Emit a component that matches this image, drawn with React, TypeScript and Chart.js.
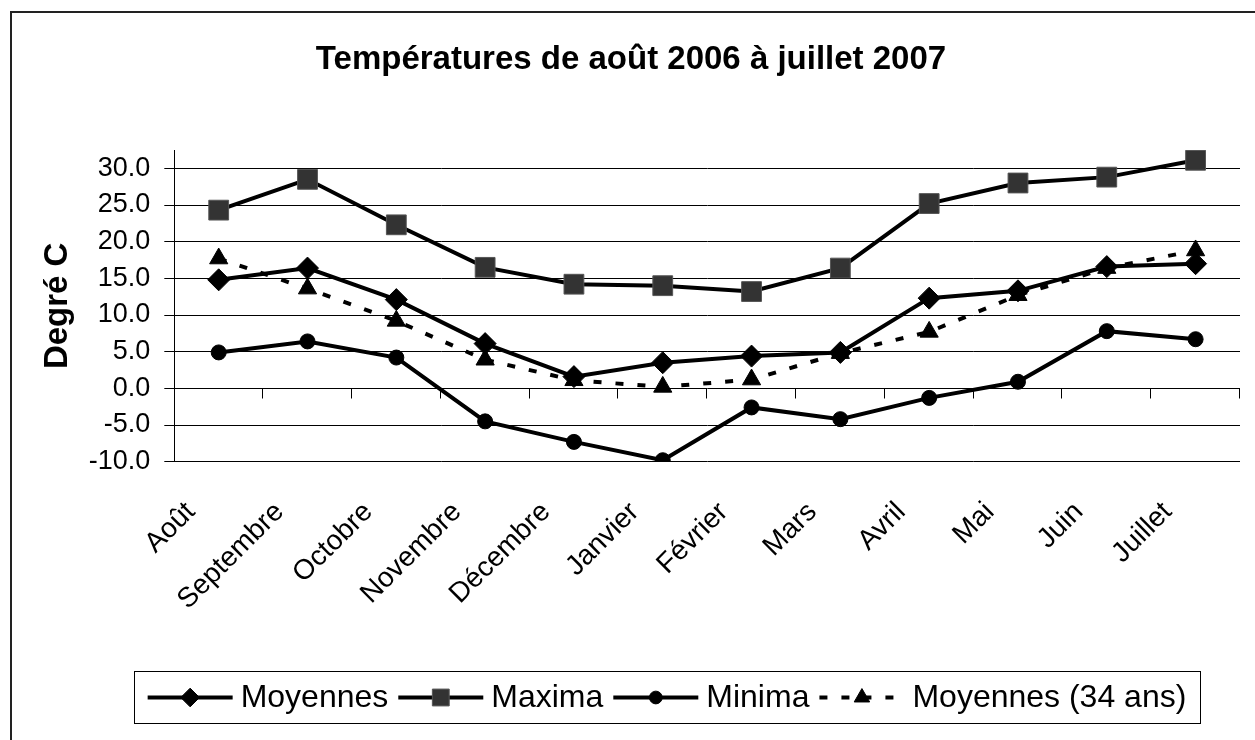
import React, { useEffect, useRef } from 'react';
import { Chart, registerables } from 'chart.js';
import { drawPoint } from 'chart.js/helpers';

Chart.register(...registerables);

const months = ['Août', 'Septembre', 'Octobre', 'Novembre', 'Décembre', 'Janvier', 'Février', 'Mars', 'Avril', 'Mai', 'Juin', 'Juillet'];
const moyennes = [14.8, 16.4, 12.1, 6.1, 1.6, 3.5, 4.4, 4.9, 12.3, 13.3, 16.6, 17.0];
const maxima = [24.3, 28.5, 22.3, 16.5, 14.2, 14.0, 13.2, 16.4, 25.2, 28.0, 28.8, 31.1];
const minima = [4.9, 6.4, 4.2, -4.5, -7.3, -9.8, -2.6, -4.2, -1.3, 0.9, 7.8, 6.7];
const moyennes34 = [17.7, 13.6, 9.2, 3.9, 1.1, 0.2, 1.2, 4.8, 7.7, 12.7, 16.4, 18.8];
const yTicks = [-10, -5, 0, 5, 10, 15, 20, 25, 30];
const seriesLabels = ['Moyennes', 'Maxima', 'Minima', 'Moyennes (34 ans)'];
const chartTitle = 'Températures de août 2006 à juillet 2007';
const yTitle = 'Degré C';

const FONT = '"Liberation Sans", Arial, Helvetica, sans-serif';

const decor = {
  id: 'decor',
  afterDraw(chart: any) {
    const ctx = chart.ctx as CanvasRenderingContext2D;
    const { left, right } = chart.chartArea;
    const y = chart.scales.y;
    ctx.save();
    // outer frame
    ctx.strokeStyle = '#222';
    ctx.lineWidth = 2;
    ctx.beginPath();
    ctx.moveTo(11, chart.height + 4);
    ctx.lineTo(11, 12);
    ctx.lineTo(chart.width + 4, 12);
    ctx.stroke();

    // category tick marks along the zero line
    const y0 = Math.round(y.getPixelForValue(0)) + 0.5;
    const n = months.length;
    ctx.lineWidth = 1;
    ctx.strokeStyle = '#000';
    for (let k = 1; k <= n; k++) {
      const px = Math.round(left + ((right - left) * k) / n) - 0.5;
      ctx.beginPath();
      ctx.moveTo(px, y0);
      ctx.lineTo(px, y0 + 10);
      ctx.stroke();
    }

    // legend
    const boxL = 134, boxR = 1200, boxT = 671, boxB = 723;
    ctx.strokeStyle = '#000';
    ctx.lineWidth = 1;
    ctx.strokeRect(boxL + 0.5, boxT + 0.5, boxR - boxL, boxB - boxT);
    ctx.font = `32px ${FONT}`;
    const lineLen = 85, gapLT = 8, gapTL = 10;
    const dsets = chart.data.datasets;
    const widths = dsets.map((d: any) => ctx.measureText(d.label).width);
    let total = 0;
    widths.forEach((w: number, i: number) => {
      total += lineLen + gapLT + w + (i < widths.length - 1 ? gapTL : 0);
    });
    let sx = (boxL + boxR) / 2 - total / 2;
    const cy = (boxT + boxB) / 2 + 0.5;
    dsets.forEach((d: any, i: number) => {
      ctx.save();
      ctx.strokeStyle = d.borderColor;
      ctx.lineWidth = d.borderWidth;
      ctx.setLineDash(d.borderDash || []);
      ctx.beginPath();
      ctx.moveTo(sx, cy);
      ctx.lineTo(sx + lineLen, cy);
      ctx.stroke();
      ctx.setLineDash([]);
      ctx.fillStyle = d.pointBackgroundColor;
      ctx.strokeStyle = d.pointBorderColor;
      ctx.lineWidth = d.pointBorderWidth;
      drawPoint(ctx, { pointStyle: d.pointStyle, radius: d.pointRadius * 0.85, borderWidth: d.pointBorderWidth, rotation: 0 } as any, sx + lineLen / 2, cy);
      ctx.restore();
      ctx.fillStyle = '#000';
      ctx.textBaseline = 'middle';
      ctx.textAlign = 'left';
      ctx.font = `32px ${FONT}`;
      ctx.fillText(d.label, sx + lineLen + gapLT, cy + 1);
      sx += lineLen + gapLT + widths[i] + gapTL;
    });
    ctx.restore();
  },
};

export default function App() {
  const ref = useRef<HTMLCanvasElement>(null);
  useEffect(() => {
    const common = { borderColor: '#000', borderWidth: 4, tension: 0, pointBorderWidth: 1 };
    const chart = new Chart(ref.current!, {
      type: 'line',
      data: {
        labels: months,
        datasets: [
          { ...common, label: seriesLabels[0], data: moyennes, pointStyle: 'rectRot', pointRadius: 11, pointBackgroundColor: '#000', pointBorderColor: '#000' },
          { ...common, label: seriesLabels[1], data: maxima, pointStyle: 'rect', pointRadius: 14, pointBackgroundColor: '#333', pointBorderColor: '#555' },
          { ...common, label: seriesLabels[2], data: minima, pointStyle: 'circle', pointRadius: 7.5, pointBackgroundColor: '#000', pointBorderColor: '#000' },
          { ...common, label: seriesLabels[3], data: moyennes34, borderDash: [8, 14], pointStyle: 'triangle', pointRadius: 10.5, pointBackgroundColor: '#000', pointBorderColor: '#000' },
        ] as any,
      },
      options: {
        responsive: false,
        animation: false,
        events: [],
        layout: { padding: { left: 10, right: 3, top: 0, bottom: 118.3 } },
        plugins: {
          legend: { display: false },
          tooltip: { enabled: false },
          title: {
            display: true,
            text: chartTitle,
            color: '#000',
            font: { family: FONT, size: 33, weight: 'bold', lineHeight: 1.2 },
            padding: { top: 40, bottom: 70.4 },
          },
        },
        scales: {
          x: {
            type: 'category',
            offset: true,
            grid: { display: false, drawTicks: false },
            border: { display: false },
            ticks: { color: '#000', font: { family: FONT, size: 28 }, maxRotation: 45, minRotation: 45, padding: 34, labelOffset: -28, autoSkip: false },
            afterFit: (s: any) => { s.height = 160; },
          },
          y: {
            min: -10,
            max: 32.5,
            afterBuildTicks: (s: any) => { s.ticks = yTicks.map((v) => ({ value: v })); },
            ticks: { color: '#000', font: { family: FONT, size: 27 }, padding: 14, autoSkip: false, callback: (v: any) => Number(v).toFixed(1) },
            grid: { color: '#000', lineWidth: 1, tickLength: 10, drawTicks: true },
            border: { display: true, color: '#000', width: 1 },
            title: { display: true, text: yTitle, color: '#000', font: { family: FONT, size: 33, weight: 'bold', lineHeight: 1.2 }, padding: { top: 28, bottom: 0 } },
            afterFit: (s: any) => { s.width = 164.3; },
          },
        },
      } as any,
      plugins: [decor],
    });
    return () => chart.destroy();
  }, []);
  return (
    <div style={{ position: 'fixed', left: 0, top: 0, width: 1255, height: 740, background: '#fff' }}>
      <canvas ref={ref} width={1255} height={740} style={{ display: 'block', width: 1255, height: 740 }} />
    </div>
  );
}
